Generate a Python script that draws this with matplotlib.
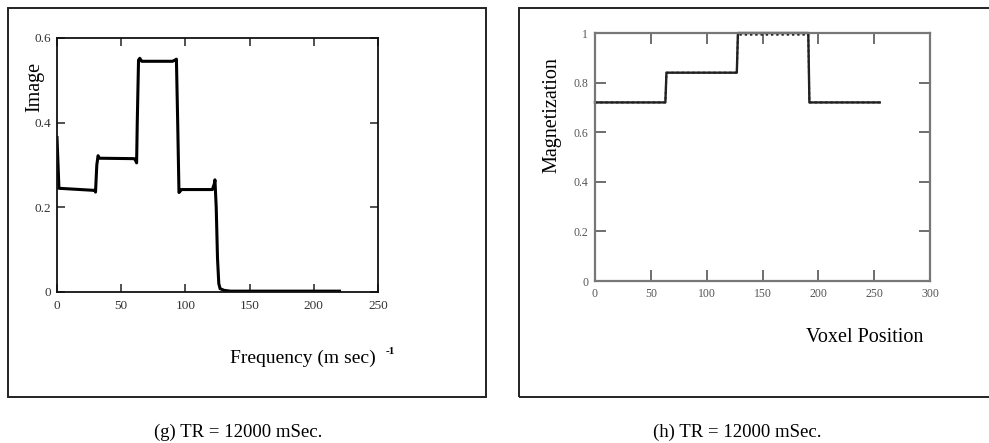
import matplotlib
matplotlib.use("Agg")
import matplotlib.pyplot as plt
from matplotlib.patches import Rectangle

plt.rcParams['font.family'] = ['Liberation Serif', 'DejaVu Serif']

# (g) image profile
freq = [0, 1.5, 29.5, 30, 31, 32, 33, 60, 61, 62, 62.5, 63.5, 64.5, 66, 90, 92, 93,
        94, 95, 97, 121, 122.5, 123, 124, 125, 126, 127, 130, 135, 220]
image = [0.365, 0.245, 0.24, 0.236, 0.30, 0.322, 0.316, 0.315, 0.312, 0.305, 0.40,
         0.548, 0.552, 0.545, 0.545, 0.548, 0.55, 0.40, 0.235, 0.242, 0.242, 0.255,
         0.265, 0.20, 0.08, 0.02, 0.008, 0.004, 0.002, 0.002]

# (h) magnetization profile (solid = computed, dotted = reference)
voxel = [0, 63, 64, 127, 128, 191, 192, 255]
magn = [0.72, 0.72, 0.84, 0.84, 1.0, 1.0, 0.72, 0.72]
magn_ref = [0.72, 0.72, 0.84, 0.84, 0.993, 0.993, 0.72, 0.72]

left_xticks = [0, 50, 100, 150, 200, 250]
left_yticks = [0, 0.2, 0.4, 0.6]
right_xticks = [0, 50, 100, 150, 200, 250, 300]
right_yticks = [0, 0.2, 0.4, 0.6, 0.8, 1]

W, H = 989, 443
fig = plt.figure(figsize=(W / 100, H / 100), dpi=100)

def fx(px):
    return px / W

def fy(py):
    return 1 - py / H

# frames around the two panels
fig.patches.append(Rectangle((fx(8), fy(397)), fx(486 - 8), (397 - 8) / H,
                             transform=fig.transFigure, fill=False, ec='#222222', lw=1.4))
fig.patches.append(Rectangle((fx(519), fy(397)), fx(1000 - 519), (397 - 8) / H,
                             transform=fig.transFigure, fill=False, ec='#222222', lw=1.4))

# left panel
ax1 = fig.add_axes([fx(57), fy(292), fx(378 - 57), (292 - 38) / H])
ax1.plot(freq, image, color='black', lw=2.2)
ax1.set_xlim(0, 250)
ax1.set_ylim(0, 0.6)
ax1.set_xticks(left_xticks)
ax1.set_xticklabels([str(t) for t in left_xticks])
ax1.set_yticks(left_yticks)
ax1.set_yticklabels(['0', '0.2', '0.4', '0.6'])
ax1.tick_params(direction='in', top=True, right=True, length=6, width=1.2,
                labelsize=9.5, colors='#333333', pad=6)
ax1.tick_params(axis='y', pad=4)
for s in ax1.spines.values():
    s.set_linewidth(1.3)
    s.set_color('#111111')

fig.text(fx(35), fy(87), 'Image', rotation=90, ha='center', va='center', fontsize=14.5)
fig.text(fx(230), fy(358), 'Frequency (m sec)', ha='left', va='center', fontsize=14)
fig.text(fx(386), fy(352), '-1', ha='left', va='center', fontsize=8, fontweight='bold')

# right panel
ax2 = fig.add_axes([fx(595), fy(281), fx(930 - 595), (281 - 33) / H])
ax2.plot(voxel, magn, color='#222222', lw=1.7, clip_on=False)
ax2.plot(voxel, magn_ref, color='#222222', lw=1.4, ls=(0, (1.2, 1.5)), clip_on=False)
ax2.set_xlim(0, 300)
ax2.set_ylim(0, 1)
ax2.set_xticks(right_xticks)
ax2.set_xticklabels([str(t) for t in right_xticks])
ax2.set_yticks(right_yticks)
ax2.set_yticklabels(['0', '0.2', '0.4', '0.6', '0.8', '1'])
ax2.tick_params(direction='in', top=True, right=True, length=8, width=1.2,
                labelsize=8.5, colors='#555555', pad=5)
for s in ax2.spines.values():
    s.set_linewidth(1.6)
    s.set_color('#777777')

fig.text(fx(552), fy(115), 'Magnetization', rotation=90, ha='center', va='center', fontsize=14.5)
fig.text(fx(865), fy(338), 'Voxel Position', ha='center', va='center', fontsize=14.5)

# captions
fig.text(fx(238), fy(432), '(g) TR = 12000 mSec.', ha='center', va='center', fontsize=13.5)
fig.text(fx(737), fy(432), '(h) TR = 12000 mSec.', ha='center', va='center', fontsize=13.5)

fig.savefig('out.png', dpi=100)
